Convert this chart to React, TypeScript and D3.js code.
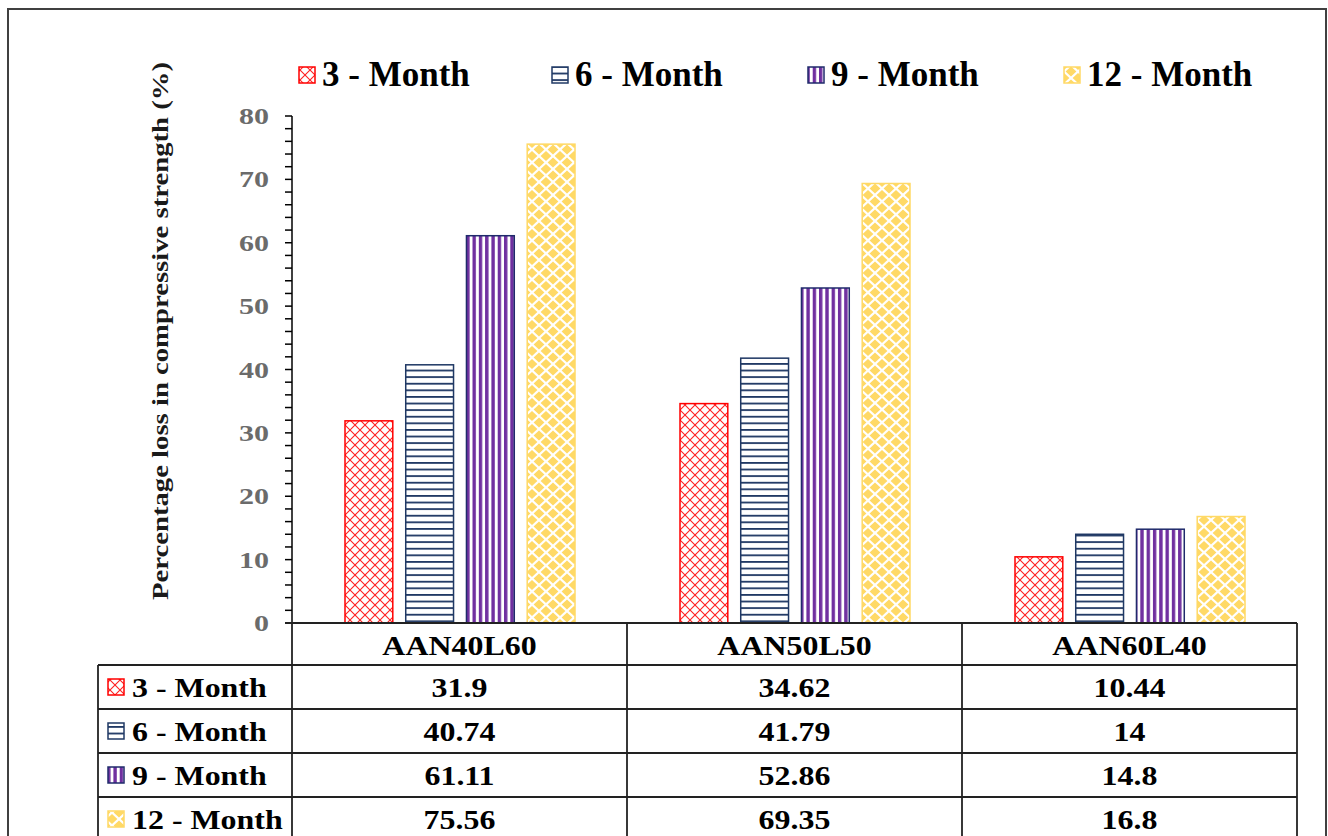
import React from 'react';
import * as d3 from 'd3';

const categories = ['AAN40L60', 'AAN50L50', 'AAN60L40'];
const seriesNames = ['3 - Month', '6 - Month', '9 - Month', '12 - Month'];
const month3 = [31.9, 34.62, 10.44];
const month6 = [40.74, 41.79, 14];
const month9 = [61.11, 52.86, 14.8];
const month12 = [75.56, 69.35, 16.8];
const yTickValues = [0, 10, 20, 30, 40, 50, 60, 70, 80];
const tableLabels = [['31.9', '34.62', '10.44'], ['40.74', '41.79', '14'], ['61.11', '52.86', '14.8'], ['75.56', '69.35', '16.8']];
const yTitle = 'Percentage loss in compressive strength (%)';

const seriesValues = [month3, month6, month9, month12];
const patternIds = ['p3', 'p6', 'p9', 'p12'];
const outlineColors = ['#FF0000', '#1F3864', '#1F2A6B', '#FFD966'];

const W = 1328;
const H = 836;
const left = 292;
const right = 1297;
const top = 116;
const bottom = 623;
const rowH = 44;
const FONT = '"Liberation Serif", "Times New Roman", serif';

function SText({ x, y, sx = 1, anchor = 'middle', size, fill = '#000', children }: any) {
  return (
    <text
      transform={`translate(${x},${y}) scale(${sx},1)`}
      textAnchor={anchor}
      fontFamily={FONT}
      fontWeight="bold"
      fontSize={size}
      fill={fill}
    >
      {children}
    </text>
  );
}

function diamond(cx: number, cy: number, rx: number, ry: number) {
  return `M${cx},${cy - ry}L${cx + rx},${cy}L${cx},${cy + ry}L${cx - rx},${cy}Z`;
}

export default function App() {
  const x = d3.scaleBand<string>().domain(categories).range([left, right]).paddingInner(0).paddingOuter(0);
  const y = d3.scaleLinear().domain([0, 80]).range([bottom, top]);
  const bw = x.bandwidth();
  const xs = d3.scaleBand<string>().domain(seriesNames).range([53, bw - 52]).paddingInner(0.213).paddingOuter(0);
  const minorTicks = d3.range(0, 81, 2);
  const rowY = d3.scaleBand<string>().domain(seriesNames).range([bottom + 42, bottom + 42 + rowH * 4]);

  const legendX = [298, 551, 807, 1063];
  const dRx = 5.4;
  const dRy = 5.0;
  const pW = 14;
  const pH = 13;
  const p12Path = [
    diamond(pW / 2, pH / 2, dRx, dRy),
    diamond(0, 0, dRx, dRy),
    diamond(pW, 0, dRx, dRy),
    diamond(0, pH, dRx, dRy),
    diamond(pW, pH, dRx, dRy),
  ].join(' ');

  return (
    <svg width={W} height={H} style={{ position: 'absolute', left: 0, top: 0, background: '#fff' }}>
      <defs>
        <pattern id="p3" patternUnits="userSpaceOnUse" width={10} height={10}>
          <rect width={10} height={10} fill="#fff" />
          <path d="M0,0L10,10M10,0L0,10" stroke="#FF2020" strokeWidth={1.1} />
        </pattern>
        <pattern id="p6" patternUnits="userSpaceOnUse" width={10} height={6.6}>
          <rect width={10} height={6.6} fill="#fff" />
          <rect y={0} width={10} height={1.8} fill="#1F3864" />
        </pattern>
        <pattern id="p9" patternUnits="userSpaceOnUse" width={6.3} height={10}>
          <rect width={6.3} height={10} fill="#fff" />
          <rect x={0} width={3.4} height={10} fill="#7030A0" />
        </pattern>
        <pattern id="p12" patternUnits="userSpaceOnUse" width={pW} height={pH}>
          <rect width={pW} height={pH} fill="#fff" />
          <path d={p12Path} fill="#FFD966" />
        </pattern>
      </defs>

      {/* outer frame */}
      <rect x={8} y={9} width={1318} height={840} fill="none" stroke="#404040" strokeWidth={2} />

      {/* legend */}
      {seriesNames.map((s, i) => (
        <g key={s}>
          <rect x={legendX[i] + 1} y={67} width={16} height={16} fill={`url(#${patternIds[i]})`} stroke={outlineColors[i]} strokeWidth={1.5} />
          <SText x={legendX[i] + 24} y={86} anchor="start" size={35}>{s}</SText>
        </g>
      ))}

      {/* y title */}
      <text
        transform={`translate(168,${(62 + 600) / 2}) rotate(-90)`}
        textAnchor="middle"
        fontFamily={FONT}
        fontWeight="bold"
        fontSize={23}
        fill="#1a1a1a"
        textLength={538}
        lengthAdjust="spacingAndGlyphs"
      >
        {yTitle}
      </text>

      {/* bars */}
      {categories.map((c, ci) => (
        <g key={c}>
          {seriesNames.map((s, si) => {
            const v = seriesValues[si][ci];
            const bx = (x(c) as number) + (xs(s) as number);
            return (
              <rect
                key={s}
                x={bx}
                y={y(v)}
                width={xs.bandwidth()}
                height={bottom - y(v)}
                fill={`url(#${patternIds[si]})`}
                stroke={outlineColors[si]}
                strokeWidth={1.5}
              />
            );
          })}
        </g>
      ))}

      {/* y axis */}
      <line x1={left} x2={left} y1={top} y2={bottom} stroke="#000" strokeWidth={1.5} />
      {minorTicks.map((t) => (
        <line key={t} x1={left - 7} x2={left} y1={y(t)} y2={y(t)} stroke="#000" strokeWidth={1.5} />
      ))}
      {yTickValues.map((t) => (
        <SText key={t} x={269} y={y(t) + 8} anchor="end" sx={1.25} size={24} fill="#6b6b6b">{t}</SText>
      ))}

      {/* table */}
      <g stroke="#222" strokeWidth={1.8} fill="none">
        <line x1={left - 7} x2={right} y1={bottom} y2={bottom} />
        {[0, 1, 2, 3, 4].map((k) => (
          <line key={k} x1={98} x2={right} y1={bottom + 42 + rowH * k} y2={bottom + 42 + rowH * k} />
        ))}
        {[...categories.map((c) => x(c) as number), right].map((vx, k) => (
          <line key={k} x1={vx} x2={vx} y1={bottom} y2={H + 10} />
        ))}
        <line x1={98} x2={98} y1={bottom + 42} y2={H + 10} />
      </g>
      {categories.map((c) => (
        <SText key={c} x={(x(c) as number) + bw / 2} y={bottom + 32} sx={1.14} size={28}>{c}</SText>
      ))}
      {seriesNames.map((s, si) => {
        const ry = rowY(s) as number;
        return (
          <g key={s}>
            <rect x={108} y={ry + 14} width={16} height={16} fill={`url(#${patternIds[si]})`} stroke={outlineColors[si]} strokeWidth={1.5} />
            <SText x={132} y={ry + 32} anchor="start" sx={1.14} size={28}>{s}</SText>
            {categories.map((c, ci) => (
              <SText key={c} x={(x(c) as number) + bw / 2} y={ry + 32} sx={1.14} size={28}>{tableLabels[si][ci]}</SText>
            ))}
          </g>
        );
      })}
    </svg>
  );
}
